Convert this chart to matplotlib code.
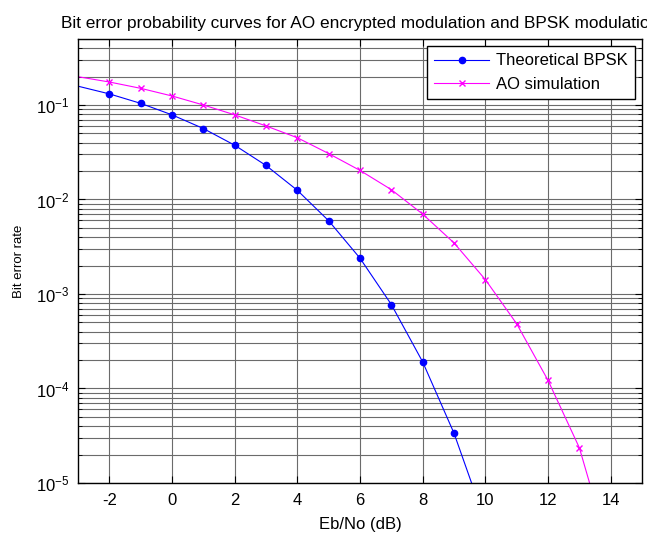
import matplotlib
matplotlib.use('Agg')
import matplotlib.pyplot as plt
from matplotlib.ticker import LogLocator, NullFormatter, MultipleLocator

# Eb/No (dB)
ebno = [-3, -2, -1, 0, 1, 2, 3, 4, 5, 6, 7, 8, 9, 10, 11, 12, 13, 14]

# 理論 BPSK
ber_bpsk = [0.158, 0.131, 0.104, 0.0786, 0.0563, 0.0375, 0.0229, 0.0125,
            0.00595, 0.00239, 7.73e-4, 1.91e-4, 3.36e-5, 3.87e-6, 2.6e-7,
            9.0e-9, 1.3e-10, 9.0e-13]

# AO 模擬
ber_ao = [0.199, 0.175, 0.150, 0.1245, 0.100, 0.0786, 0.060, 0.045, 0.0306,
          0.0203, 0.0127, 0.0070, 0.00347, 0.00142, 4.84e-4, 1.22e-4,
          2.36e-5, 1.7e-6]

plt.rcParams['font.family'] = ['Liberation Sans', 'DejaVu Sans']
plt.rcParams['mathtext.default'] = 'regular'
plt.rcParams['axes.unicode_minus'] = False

fig = plt.figure(figsize=(6.47, 5.33), dpi=100)
ax = fig.add_axes([0.1206, 0.0938, 0.9923 - 0.1206, 0.927 - 0.0938])

ax.semilogy(ebno, ber_bpsk, '-o', color='#0000ff', lw=0.8, ms=4.5,
            markevery=slice(1, None), label='Theoretical BPSK')
ax.semilogy(ebno, ber_ao, '-x', color='#ff00ff', lw=0.8, ms=5, mew=1,
            markevery=slice(1, None), label='AO simulation')

ax.set_xlim(-3, 15)
ax.set_ylim(1e-5, 0.5)
ax.xaxis.set_major_locator(MultipleLocator(2))
ax.yaxis.set_major_locator(LogLocator(base=10))
ax.yaxis.set_minor_locator(LogLocator(base=10, subs=range(2, 10)))
ax.yaxis.set_minor_formatter(NullFormatter())

# 格線
ax.grid(True, which='major', ls='-', color='0.42', lw=0.8)
ax.grid(True, which='minor', axis='y', ls='-', color='0.42', lw=0.8)
ax.tick_params(which='both', direction='in', top=True, right=True,
               labelsize=12)
ax.tick_params(axis='x', pad=7.5)
ax.tick_params(axis='y', pad=6)
ax.tick_params(which='major', length=5)
ax.tick_params(which='minor', length=3)
for s in ax.spines.values():
    s.set_linewidth(1.0)

ax.set_title('Bit error probability curves for AO encrypted modulation and BPSK modulation',
             fontsize=12.4, pad=8)
ax.set_xlabel('Eb/No (dB)', fontsize=12, labelpad=6)
ax.set_ylabel('Bit error rate', fontsize=9.5, labelpad=8)

leg = ax.legend(loc='upper right', fontsize=12, fancybox=False, framealpha=1,
                edgecolor='black', borderaxespad=0.42, borderpad=0.45,
                handlelength=3.3, handletextpad=0.4, labelspacing=0.5)
leg.get_frame().set_linewidth(1.0)

fig.savefig('out.png', dpi=100)
